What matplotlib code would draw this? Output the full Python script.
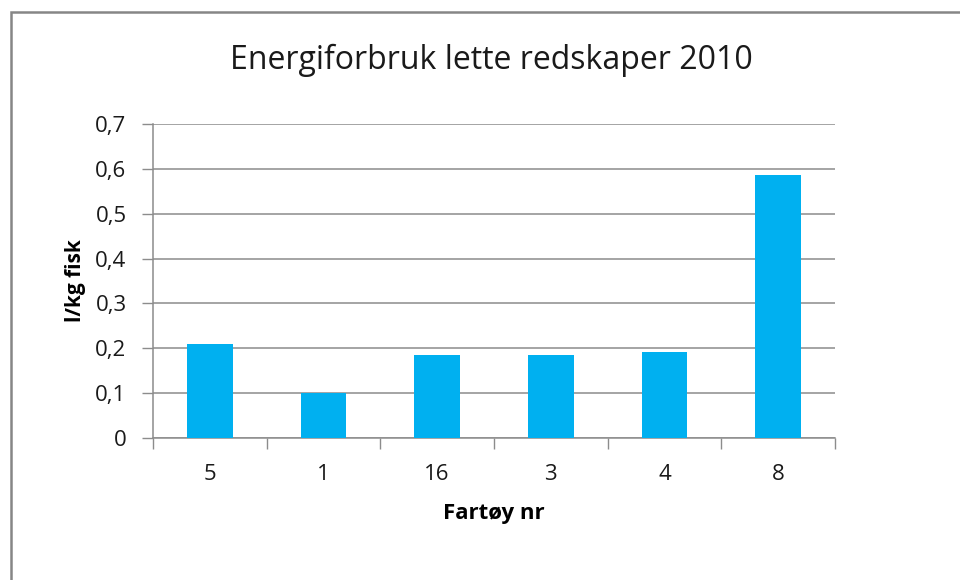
import matplotlib
matplotlib.use("Agg")
import matplotlib.pyplot as plt
from matplotlib.patches import Rectangle
import numpy as np

categories = ["5", "1", "16", "3", "4", "8"]
values = [0.21, 0.10, 0.184, 0.184, 0.192, 0.586]
yticks = [0, 0.1, 0.2, 0.3, 0.4, 0.5, 0.6, 0.7]
ytick_labels = ["0", "0,1", "0,2", "0,3", "0,4", "0,5", "0,6", "0,7"]

plt.rcParams['font.family'] = ['Open Sans', 'DejaVu Sans']

fig = plt.figure(figsize=(9.6, 5.8), dpi=100)
fig.patch.set_facecolor("white")

# outer chart frame (cut off on right and bottom)
fig.patches.append(Rectangle((10.5/960, -0.1), 1.2, (580-12)/580 + 0.1,
                             transform=fig.transFigure, fill=False,
                             edgecolor="#868686", linewidth=1.8))

ax = fig.add_axes([153/960, (580-438)/580, (835-153)/960, (438-124)/580])
x = np.arange(len(categories))
ax.bar(x, values, width=0.4, color="#00B0F0", zorder=3)

ax.set_xlim(-0.5, len(categories) - 0.5)
ax.set_ylim(0, 0.7)
ax.set_yticks(yticks)
ax.set_yticklabels(ytick_labels, fontsize=16, color="#1a1a1a")
ax.yaxis.grid(True, color="#8c8c8c", linewidth=1.1, zorder=0)
ax.tick_params(axis="y", length=8, width=1, color="#8c8c8c", pad=11)

ax.set_xticks(x)
ax.set_xticklabels(categories, fontsize=16, color="#1a1a1a")
ax.tick_params(axis="x", which="major", length=0, pad=19)
ax.set_xticks(np.arange(len(categories) + 1) - 0.5, minor=True)
ax.tick_params(axis="x", which="minor", length=8, width=1, color="#8c8c8c")

for s in ["top", "right"]:
    ax.spines[s].set_visible(False)
for s in ["left", "bottom"]:
    ax.spines[s].set_color("#8c8c8c")
    ax.spines[s].set_linewidth(1.1)

ax.set_ylabel("l/kg fisk", fontsize=15, fontweight="bold", labelpad=7)
ax.set_xlabel("Fartøy nr", fontsize=16, fontweight="bold", labelpad=13)

fig.text(491/960, 1 - 60/580, "Energiforbruk lette redskaper 2010",
         fontsize=23, ha="center", va="center", color="#1a1a1a")

fig.savefig("out.png", dpi=100, facecolor="white")
